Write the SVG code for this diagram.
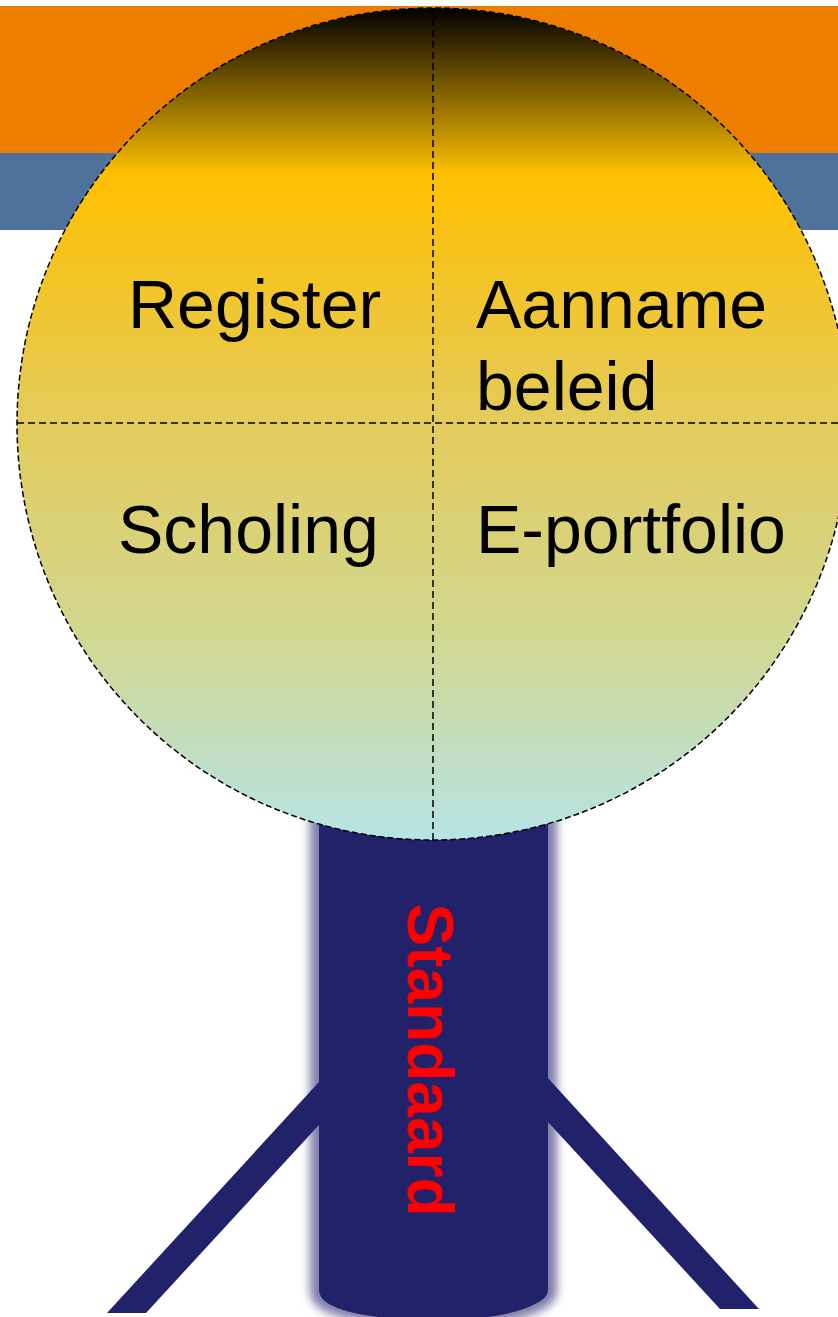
<svg xmlns="http://www.w3.org/2000/svg" width="838" height="1317" viewBox="0 0 838 1317">
<defs>
<linearGradient id="ball" x1="0" y1="8" x2="0" y2="840" gradientUnits="userSpaceOnUse">
<stop offset="0" stop-color="#000000"/>
<stop offset="0.2" stop-color="#FFC000"/>
<stop offset="0.5" stop-color="#E3CB5C"/>
<stop offset="0.75" stop-color="#D2D78F"/>
<stop offset="1" stop-color="#B6E4E6"/>
</linearGradient>
<filter id="glow" x="-20%" y="-5%" width="140%" height="110%">
<feGaussianBlur stdDeviation="5"/>
</filter>
<style>
.lbl{font-family:"Liberation Sans",Arial,sans-serif;font-size:68px;fill:#000}
.dash{fill:none;stroke:#000;stroke-width:1.5;stroke-dasharray:7 4}
.navy{fill:#22226A}
</style>
</defs>
<rect width="838" height="1317" fill="#FFFFFF"/>
<g id="bands">
<rect x="0" y="6" width="838" height="147" fill="#EE7E00"/>
<rect x="0" y="153" width="838" height="77" fill="#4E729B"/>
</g>
<g id="stand">
<path d="M310,780 V1292 Q310,1310 345,1318 Q370,1324 400,1326 H470 Q520,1322 542,1310 Q557,1302 557,1292 V780 Z" fill="#7E7EAA" filter="url(#glow)"/>
<polygon class="navy" points="330,1070 107,1313 146,1313 330,1113"/>
<polygon class="navy" points="536,1065 759,1309 720,1309 536,1109"/>
<path class="navy" d="M319,780 V1290 Q319,1304 350,1312 Q370,1317 400,1319 H470 Q515,1315 535,1304 Q548,1298 548,1290 V780 Z"/>
<text id="standaard" transform="translate(408,1060) rotate(90)" text-anchor="middle" font-family="Liberation Sans,Arial,sans-serif" font-weight="bold" font-size="64" fill="#FF0000">Standaard</text>
</g>
<g id="ball-node">
<circle cx="433" cy="424" r="416" fill="url(#ball)"/>
<circle cx="433" cy="424" r="416" fill="none" stroke="#000" stroke-width="1.5" stroke-dasharray="6 3"/>
</g>
<g id="connectors">
<line class="dash" x1="433" y1="8" x2="433" y2="840"/>
<line class="dash" x1="17" y1="423" x2="849" y2="423"/>
</g>
<g id="register"><text class="lbl" x="128" y="328">Register</text></g>
<g id="aanname"><text class="lbl" x="476" y="328">Aanname</text><text class="lbl" x="476" y="410">beleid</text></g>
<g id="scholing"><text class="lbl" x="118" y="553">Scholing</text></g>
<g id="eportfolio"><text class="lbl" x="476" y="553">E-portfolio</text></g>
</svg>
